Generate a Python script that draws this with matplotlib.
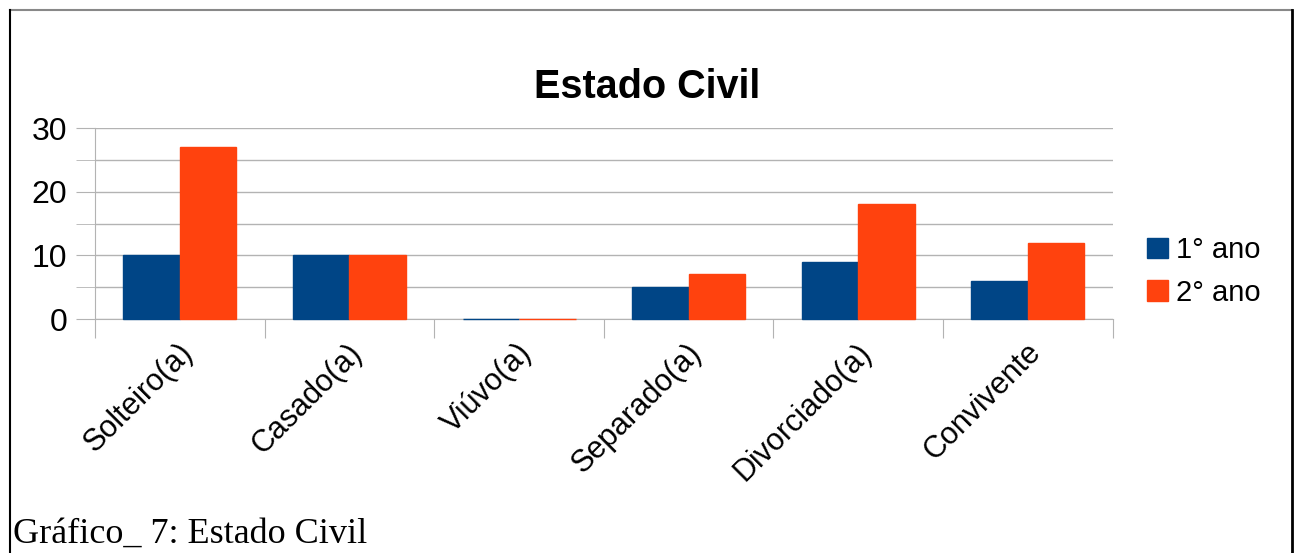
import matplotlib.pyplot as plt
from matplotlib.lines import Line2D
import numpy as np

plt.rcParams['font.family'] = ['Liberation Sans', 'DejaVu Sans']

categorias = ['Solteiro(a)', 'Casado(a)', 'Viúvo(a)', 'Separado(a)', 'Divorciado(a)', 'Convivente']
primeiro_ano = [10, 10, 0, 5, 9, 6]
segundo_ano = [27, 10, 0, 7, 18, 12]
series = ['1° ano', '2° ano']
cores = ['#004586', '#ff420e']

fig = plt.figure(figsize=(13, 5.53), dpi=100)
ax = fig.add_axes([0.073, 0.423, 0.783, 0.3455])

x = np.arange(len(categorias))
w = 0.333
ax.bar(x - w / 2, primeiro_ano, w, color=cores[0], edgecolor=cores[0], linewidth=1,
       label=series[0], zorder=3, clip_on=False)
ax.bar(x + w / 2, segundo_ano, w, color=cores[1], edgecolor=cores[1], linewidth=1,
       label=series[1], zorder=3, clip_on=False)

ax.set_xlim(-0.5, len(categorias) - 0.5)
ax.set_ylim(0, 30)
ax.set_yticks([0, 10, 20, 30])
ax.set_yticks([5, 15, 25], minor=True)
ax.yaxis.grid(True, which='both', color='#b3b3b3', linewidth=1, zorder=0)
ax.tick_params(axis='y', which='both', length=14, color='#b3b3b3', labelsize=23, pad=6)

# ticks nas divisas das categorias, rótulos no centro
ax.set_xticks(np.arange(len(categorias) + 1) - 0.5)
ax.set_xticklabels([])
ax.tick_params(axis='x', length=14, color='#b3b3b3')
for i, c in enumerate(categorias):
    ax.annotate(c, xy=(i + 0.05, 0), xycoords=('data', 'axes fraction'),
                xytext=(0, -21), textcoords='offset points',
                rotation=45, ha='right', va='center', rotation_mode='anchor',
                fontsize=22)

for s in ['top', 'right']:
    ax.spines[s].set_visible(False)
for s in ['left', 'bottom']:
    ax.spines[s].set_color('#b3b3b3')

fig.text(0.498, 0.842, 'Estado Civil', ha='center', va='center', fontsize=28.5, fontweight='bold')

leg = ax.legend(loc='center left', bbox_to_anchor=(1.008, 0.25), frameon=False,
                fontsize=21, handlelength=0.7, handleheight=0.7, handletextpad=0.3,
                labelspacing=0.5)

fig.text(0.01, 0.018, 'Gráfico_ 7: Estado Civil', family=['Liberation Serif', 'DejaVu Serif'],
         fontsize=26, ha='left', va='baseline')

# moldura
fig.add_artist(Line2D([0.008, 0.994], [0.982, 0.982], color='#888888', linewidth=1.5,
                      transform=fig.transFigure))
fig.add_artist(Line2D([0.008, 0.008], [0.0, 0.982], color='black', linewidth=1.5,
                      transform=fig.transFigure))
fig.add_artist(Line2D([0.994, 0.994], [0.0, 0.982], color='black', linewidth=2,
                      transform=fig.transFigure))

fig.savefig('out.png', dpi=100)
